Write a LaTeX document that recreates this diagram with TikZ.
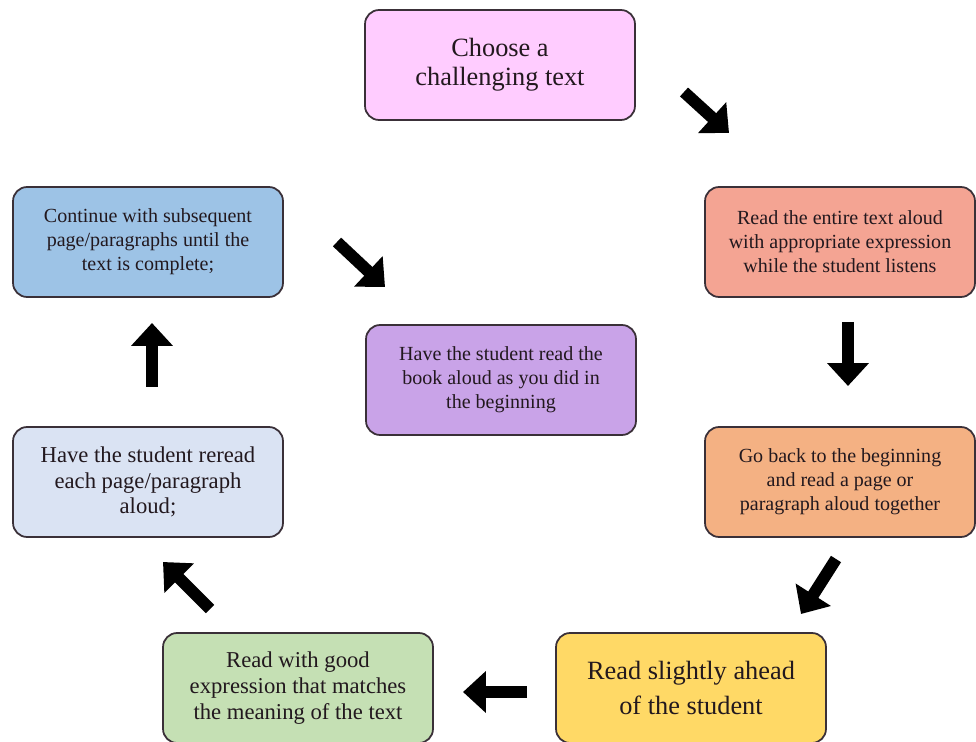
\documentclass[tikz,border=0pt]{standalone}
\usepackage{fontspec}
\setmainfont{Liberation Serif}
\usetikzlibrary{arrows.meta}
\definecolor{choosefill}{HTML}{FFCCFF}
\definecolor{readfill}{HTML}{F4A493}
\definecolor{gobackfill}{HTML}{F4B183}
\definecolor{aheadfill}{HTML}{FFD966}
\definecolor{goodfill}{HTML}{C5E0B4}
\definecolor{rereadfill}{HTML}{DAE3F3}
\definecolor{continuefill}{HTML}{9DC3E6}
\definecolor{studentfill}{HTML}{C9A3E8}
\definecolor{boxline}{HTML}{3A3038}
\definecolor{boxtext}{HTML}{22181E}
\begin{document}
\begin{tikzpicture}[x=0.02cm,y=-0.02cm,
  box/.style={draw=boxline, line width=1pt, rounded corners=8pt, minimum width=5.4cm,
    minimum height=2.2cm, align=center, inner sep=2pt, text=boxtext},
  smalltext/.style={font=\fontsize{11.4}{13.6}\selectfont},
  midtext/.style={font=\fontsize{12.9}{14.6}\selectfont},
  bigarrow/.style={line width=6.8pt, -{Triangle[width=23pt,length=13pt]}}]
\useasboundingbox (0,0) rectangle (976,742);
\node [box, fill=choosefill, font=\fontsize{15}{16.5}\selectfont] (choose) at (500,65) {Choose a\\challenging text};
\node [box, fill=readfill, smalltext] (readaloud) at (840,242) {Read the entire text aloud\\with appropriate expression\\while the student listens};
\node [box, fill=gobackfill, smalltext] (goback) at (840,482) {Go back to the beginning\\and read a page or\\paragraph aloud together};
\node [box, fill=aheadfill, font=\fontsize{15}{20}\selectfont] (ahead) at (691,688) {Read slightly ahead\\of the student};
\node [box, fill=goodfill, midtext] (goodexpr) at (298,688) {Read with good\\expression that matches\\the meaning of the text};
\node [box, fill=rereadfill, midtext] (reread) at (148,482) {Have the student reread\\each page/paragraph\\aloud;};
\node [box, fill=continuefill, smalltext] (continue) at (148,242) {Continue with subsequent\\page/paragraphs until the\\text is complete;};
\node [box, fill=studentfill, smalltext] (studentread) at (501,380) {Have the student read the\\book aloud as you did in\\the beginning};
\coordinate (a1s) at (684,92);
\coordinate (a1e) at (729,133);
\coordinate (a2s) at (848,322);
\coordinate (a2e) at (848,386);
\coordinate (a3s) at (836,559);
\coordinate (a3e) at (801,614);
\coordinate (a4s) at (527,692);
\coordinate (a4e) at (463,692);
\coordinate (a5s) at (210,609);
\coordinate (a5e) at (163,562);
\coordinate (a6s) at (152,387);
\coordinate (a6e) at (152,323);
\coordinate (a7s) at (337,242);
\coordinate (a7e) at (385,287);
\draw [bigarrow] (a1s) -- (a1e);
\draw [bigarrow] (a2s) -- (a2e);
\draw [bigarrow] (a3s) -- (a3e);
\draw [bigarrow] (a4s) -- (a4e);
\draw [bigarrow] (a5s) -- (a5e);
\draw [bigarrow] (a6s) -- (a6e);
\draw [bigarrow] (a7s) -- (a7e);
\end{tikzpicture}
\end{document}
